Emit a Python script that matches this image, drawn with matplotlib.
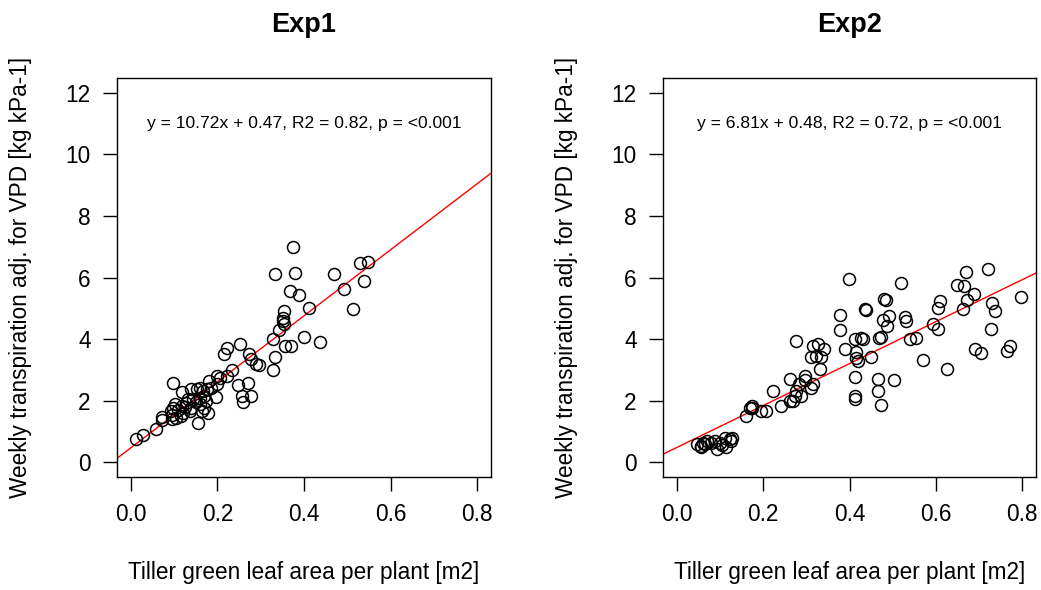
import matplotlib
matplotlib.use("Agg")
import matplotlib.pyplot as plt
import numpy as np

plt.rcParams['font.family'] = ['Liberation Sans', 'DejaVu Sans']

# Exp1: tiller green leaf area vs weekly transpiration
exp1_x = [0.013, 0.027, 0.057, 0.071, 0.073, 0.094, 0.092, 0.098, 0.101, 0.098,
          0.115, 0.117, 0.119, 0.128, 0.136, 0.138, 0.144, 0.153, 0.155, 0.159,
          0.165, 0.169, 0.175, 0.178, 0.173, 0.181, 0.196, 0.198, 0.199, 0.215,
          0.222, 0.222, 0.234, 0.251, 0.247, 0.259, 0.257, 0.270, 0.278, 0.274,
          0.278, 0.290, 0.296, 0.328, 0.332, 0.328, 0.334, 0.342, 0.351, 0.353,
          0.353, 0.355, 0.371, 0.368, 0.374, 0.380, 0.388, 0.399, 0.411, 0.436,
          0.470, 0.493, 0.513, 0.530, 0.547, 0.539,
          0.095, 0.108, 0.125, 0.132, 0.140, 0.150, 0.160, 0.166, 0.185, 0.120,
          0.105, 0.170, 0.205, 0.352, 0.160]
exp1_y = [0.77, 0.90, 1.09, 1.36, 1.48, 1.39, 1.66, 1.77, 1.88, 2.56,
          1.50, 1.83, 2.29, 1.94, 1.66, 2.37, 2.04, 2.37, 1.29, 1.88,
          1.66, 2.15, 2.37, 1.61, 1.99, 2.64, 2.12, 2.80, 2.53, 3.50,
          3.70, 2.80, 2.99, 3.85, 2.51, 1.96, 2.15, 2.58, 2.15, 3.50,
          3.34, 3.20, 3.15, 3.99, 3.43, 2.98, 6.12, 4.31, 4.58, 4.91,
          4.50, 3.79, 3.79, 5.56, 6.98, 6.15, 5.42, 4.06, 5.02, 3.91,
          6.12, 5.63, 4.99, 6.48, 6.51, 5.88,
          1.55, 1.70, 1.80, 2.05, 1.75, 1.95, 2.10, 2.30, 2.40, 1.60,
          1.45, 1.75, 2.75, 4.70, 2.40]

# Exp2
exp2_x = [0.046, 0.057, 0.061, 0.069, 0.057, 0.066, 0.088, 0.092, 0.099, 0.111,
          0.115, 0.123, 0.126, 0.127, 0.105, 0.080,
          0.161, 0.169, 0.173, 0.175, 0.196, 0.207, 0.223, 0.242, 0.261, 0.261,
          0.269, 0.273, 0.277, 0.283, 0.288, 0.298, 0.298, 0.311, 0.315, 0.331,
          0.275, 0.315, 0.327, 0.311, 0.323, 0.335, 0.340, 0.377, 0.379, 0.398,
          0.390, 0.412, 0.427, 0.431, 0.414, 0.415, 0.419, 0.412, 0.412, 0.412,
          0.435, 0.439, 0.450, 0.468, 0.520, 0.481, 0.485, 0.477, 0.486, 0.491,
          0.529, 0.531, 0.472, 0.539, 0.554, 0.571, 0.466, 0.466, 0.473, 0.504,
          0.594, 0.604, 0.604, 0.610, 0.625, 0.650, 0.666, 0.670, 0.689, 0.673,
          0.662, 0.720, 0.730, 0.738, 0.728, 0.691, 0.704, 0.765, 0.772, 0.797]
exp2_y = [0.58, 0.53, 0.64, 0.69, 0.48, 0.60, 0.69, 0.42, 0.64, 0.80,
          0.48, 0.75, 0.69, 0.78, 0.55, 0.62,
          1.50, 1.77, 1.83, 1.75, 1.66, 1.66, 2.31, 1.83, 2.71, 1.99,
          1.99, 2.15, 2.31, 2.53, 2.15, 2.80, 2.67, 2.42, 2.53, 3.02,
          3.93, 3.79, 3.83, 3.43, 3.45, 3.43, 3.69, 4.77, 4.31, 5.94,
          3.69, 3.99, 4.04, 4.01, 3.58, 3.40, 3.29, 2.78, 2.15, 2.04,
          4.99, 4.96, 3.43, 4.04, 5.83, 5.29, 5.26, 4.61, 4.44, 4.75,
          4.71, 4.58, 4.06, 4.01, 4.04, 3.32, 2.69, 2.31, 1.86, 2.66,
          4.48, 4.34, 5.02, 5.23, 3.04, 5.77, 5.74, 6.18, 5.48, 5.26,
          4.99, 6.28, 5.16, 4.91, 4.34, 3.67, 3.54, 3.61, 3.77, 5.37]

titles = ["Exp1", "Exp2"]
slopes = [10.72, 6.81]
intercepts = [0.47, 0.48]
r2 = [0.82, 0.72]
pvals = ["<0.001", "<0.001"]

xlab = "Tiller green leaf area per plant [m2]"
ylab = "Weekly transpiration adj. for VPD [kg kPa-1]"

fig = plt.figure(figsize=(10.41, 5.90), dpi=100)
ax1 = fig.add_axes([0.1124, 0.1915, 0.3593, 0.6763])
ax2 = fig.add_axes([0.6369, 0.1915, 0.3583, 0.6763])

data = [(exp1_x, exp1_y), (exp2_x, exp2_y)]
for i, ax in enumerate([ax1, ax2]):
    x, y = data[i]
    ax.plot(x, y, 'o', mfc='none', mec='black', ms=8.6, mew=1.1, zorder=3)
    ax.set_xlim(-0.032, 0.832)
    ax.set_ylim(-0.48, 12.48)
    # regression line across the whole panel
    xx = np.array([-0.05, 0.9])
    ax.plot(xx, slopes[i] * xx + intercepts[i], color='red', lw=1.0, zorder=2)
    ax.text(0.4, 11, "y = %.2fx + %.2f, R2 = %.2f, p = %s" % (slopes[i], intercepts[i], r2[i], pvals[i]),
            ha='center', va='center', fontsize=12.6)
    ax.set_xticks([0, 0.2, 0.4, 0.6, 0.8])
    ax.set_xticklabels(["0.0", "0.2", "0.4", "0.6", "0.8"])
    ax.set_yticks([0, 2, 4, 6, 8, 10, 12])
    ax.tick_params(axis='both', direction='out', length=10, width=1.0, labelsize=16.3)
    ax.tick_params(axis='x', pad=9)
    ax.tick_params(axis='y', pad=9)
    for s in ax.spines.values():
        s.set_linewidth(1.0)
    ax.set_title(titles[i], fontsize=19.5, fontweight='bold', pad=33)
    ax.set_xlabel(xlab, fontsize=16.3)
    ax.set_ylabel(ylab, fontsize=16.3)
    ax.xaxis.set_label_coords(0.5, -0.21)
    ax.yaxis.set_label_coords(-0.227, 0.5)

fig.savefig("out.png", dpi=100)
